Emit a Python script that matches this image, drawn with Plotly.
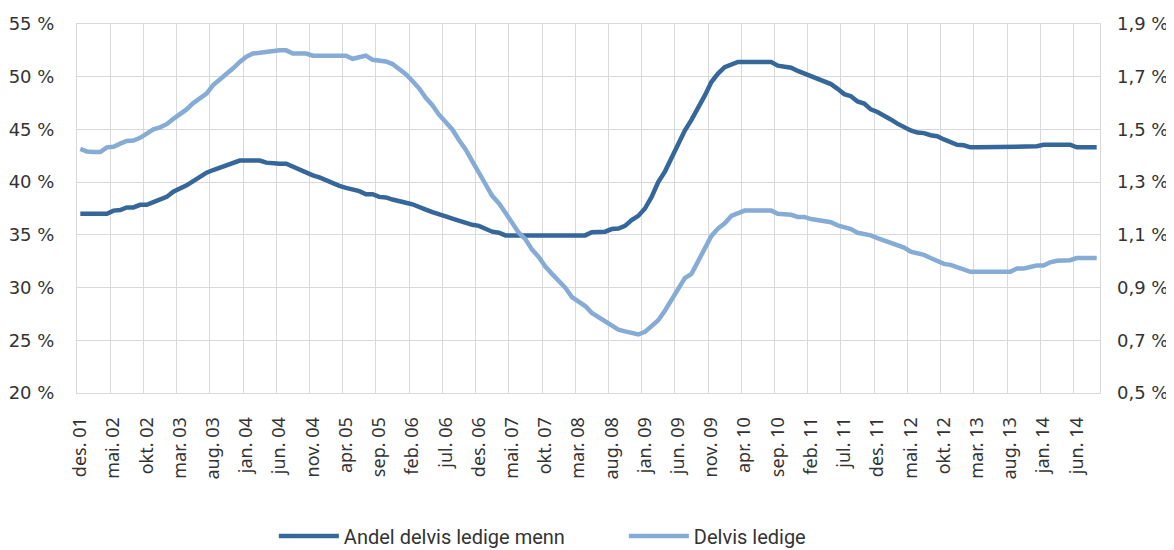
import plotly.graph_objects as go

# Monthly index from des. 01 to sep. 14 (154 months)
tick_labels = ["des. 01", "mai. 02", "okt. 02", "mar. 03", "aug. 03", "jan. 04", "jun. 04",
               "nov. 04", "apr. 05", "sep. 05", "feb. 06", "jul. 06", "des. 06", "mai. 07",
               "okt. 07", "mar. 08", "aug. 08", "jan. 09", "jun. 09", "nov. 09", "apr. 10",
               "sep. 10", "feb. 11", "jul. 11", "des. 11", "mai. 12", "okt. 12", "mar. 13",
               "aug. 13", "jan. 14", "jun. 14"]

# Andel delvis ledige menn (left axis, %)
menn = [37.0, 37.0, 37.0, 37.0, 37.0, 37.3, 37.35, 37.6, 37.6, 37.85,
        37.85, 38.1, 38.35, 38.6, 39.1, 39.35, 39.7, 40.1, 40.5, 40.9,
        41.15, 41.4, 41.65, 41.85, 42.05, 42.05, 42.05, 42.05, 41.85, 41.75,
        41.75, 41.75, 41.45, 41.2, 40.95, 40.65, 40.45, 40.15, 39.95, 39.65,
        39.45, 39.3, 39.15, 38.85, 38.85, 38.6, 38.55, 38.35, 38.15, 38.05,
        37.9, 37.6, 37.4, 37.15, 37.0, 36.75, 36.55, 36.35, 36.1, 35.95,
        35.85, 35.55, 35.3, 35.2, 34.95, 34.95, 34.95, 34.95, 34.95, 34.95,
        34.95, 34.95, 34.85, 34.95, 34.85, 34.95, 34.95, 35.25, 35.25, 35.3,
        35.55, 35.6, 35.85, 36.4, 36.8, 37.5, 38.6, 40.0, 41.0, 42.3,
        43.6, 44.9, 45.9, 47.0, 48.2, 49.5, 50.3, 50.9, 51.1, 51.4,
        51.4, 51.4, 51.4, 51.4, 51.4, 51.05, 50.9, 50.85, 50.55, 50.3,
        50.05, 49.85, 49.6, 49.3, 48.85, 48.35, 48.15, 47.65, 47.45, 46.9,
        46.65, 46.35, 45.95, 45.55, 45.2, 44.9, 44.7, 44.65, 44.45, 44.35,
        44.05, 43.75, 43.55, 43.5, 43.3, 43.3, 43.3, 43.3, 43.3, 43.3,
        43.3, 43.3, 43.3, 43.3, 43.4, 43.55, 43.55, 43.55, 43.55, 43.55,
        43.3, 43.3, 43.3, 43.3]

# Delvis ledige (right axis, %)
delvis = [1.426, 1.416, 1.414, 1.414, 1.432, 1.434, 1.446, 1.456, 1.458, 1.468,
          1.484, 1.500, 1.508, 1.520, 1.540, 1.556, 1.576, 1.600, 1.620, 1.636,
          1.668, 1.688, 1.712, 1.732, 1.756, 1.776, 1.788, 1.792, 1.792, 1.800,
          1.800, 1.800, 1.788, 1.788, 1.788, 1.780, 1.780, 1.780, 1.780, 1.780,
          1.780, 1.768, 1.774, 1.780, 1.764, 1.760, 1.758, 1.748, 1.728, 1.710,
          1.684, 1.656, 1.620, 1.592, 1.556, 1.528, 1.500, 1.460, 1.424, 1.380,
          1.340, 1.292, 1.248, 1.220, 1.184, 1.144, 1.108, 1.084, 1.044, 1.016,
          0.980, 0.952, 0.924, 0.900, 0.864, 0.848, 0.830, 0.804, 0.788, 0.772,
          0.752, 0.740, 0.734, 0.726, 0.722, 0.732, 0.752, 0.776, 0.812, 0.852,
          0.892, 0.936, 0.952, 1.000, 1.044, 1.096, 1.124, 1.144, 1.172, 1.184,
          1.192, 1.192, 1.192, 1.192, 1.192, 1.180, 1.180, 1.176, 1.168, 1.168,
          1.160, 1.156, 1.152, 1.148, 1.136, 1.128, 1.122, 1.108, 1.104, 1.098,
          1.088, 1.080, 1.072, 1.060, 1.052, 1.036, 1.032, 1.024, 1.012, 1.000,
          0.990, 0.986, 0.978, 0.966, 0.960, 0.960, 0.960, 0.960, 0.960, 0.960,
          0.960, 0.972, 0.972, 0.978, 0.984, 0.984, 0.996, 1.002, 1.004, 1.004,
          1.012, 1.012, 1.012, 1.012]

left_ticks = [20, 25, 30, 35, 40, 45, 50, 55]
left_text = ["20 %", "25 %", "30 %", "35 %", "40 %", "45 %", "50 %", "55 %"]
right_ticks = [0.5, 0.7, 0.9, 1.1, 1.3, 1.5, 1.7, 1.9]
right_text = ["0,5 %", "0,7 %", "0,9 %", "1,1 %", "1,3 %", "1,5 %", "1,7 %", "1,9 %"]

n = len(menn)
x = list(range(n))
tick_pos = list(range(0, n, 5))[:len(tick_labels)]

DARK = "#35679A"
LIGHT = "#86ABD5"
GRID = "#D9D9D9"
TXT = "#333333"

# the page body has an 8px margin, so the figure is sized to fit inside it
W, H = 1166, 542

fig = go.Figure()
fig.add_trace(go.Scatter(x=x, y=menn, name="Andel delvis ledige menn", mode="lines",
                         line=dict(color=DARK, width=4.5), yaxis="y"))
fig.add_trace(go.Scatter(x=x, y=delvis, name="Delvis ledige", mode="lines",
                         line=dict(color=LIGHT, width=4.5), yaxis="y2"))

fig.update_layout(
    width=W, height=H,
    margin=dict(l=69, r=74, t=16, b=157, autoexpand=False),
    plot_bgcolor="white", paper_bgcolor="white",
    showlegend=True,
    legend=dict(orientation="h", xref="container", x=0.228, xanchor="left",
                yref="container", y=0.026, yanchor="middle",
                font=dict(family="Roboto, Noto Sans, sans-serif", size=20, color=TXT),
                itemwidth=60,
                entrywidth=275, entrywidthmode="pixels", traceorder="normal"),
    xaxis=dict(
        range=[-0.5, n - 0.5], automargin=False,
        tickmode="array", tickvals=tick_pos, ticktext=tick_labels,
        tickangle=-90, showgrid=False, zeroline=False,
        tickfont=dict(family="Noto Sans, sans-serif", size=18, color=TXT),
        ticks="", ticklabelstandoff=16,
        showline=True, linecolor=GRID, linewidth=1, mirror=True,
        minor=dict(tick0=-0.5, dtick=5, showgrid=True, gridcolor=GRID, gridwidth=1),
    ),
    yaxis=dict(
        range=[20, 55], automargin=False,
        tickmode="array", tickvals=left_ticks, ticktext=left_text,
        showgrid=True, gridcolor=GRID, gridwidth=1, zeroline=False,
        tickfont=dict(family="DejaVu Sans, sans-serif", size=18, color=TXT),
        ticks="", ticklabelstandoff=18,
        showline=True, linecolor=GRID, linewidth=1, mirror=True,
    ),
    yaxis2=dict(
        range=[0.5, 1.9], overlaying="y", side="right", automargin=False,
        tickmode="array", tickvals=right_ticks, ticktext=right_text,
        showgrid=False, zeroline=False,
        tickfont=dict(family="DejaVu Sans, sans-serif", size=18, color=TXT),
        ticks="", ticklabelstandoff=16,
    ),
)

fig.write_html("out.html")
